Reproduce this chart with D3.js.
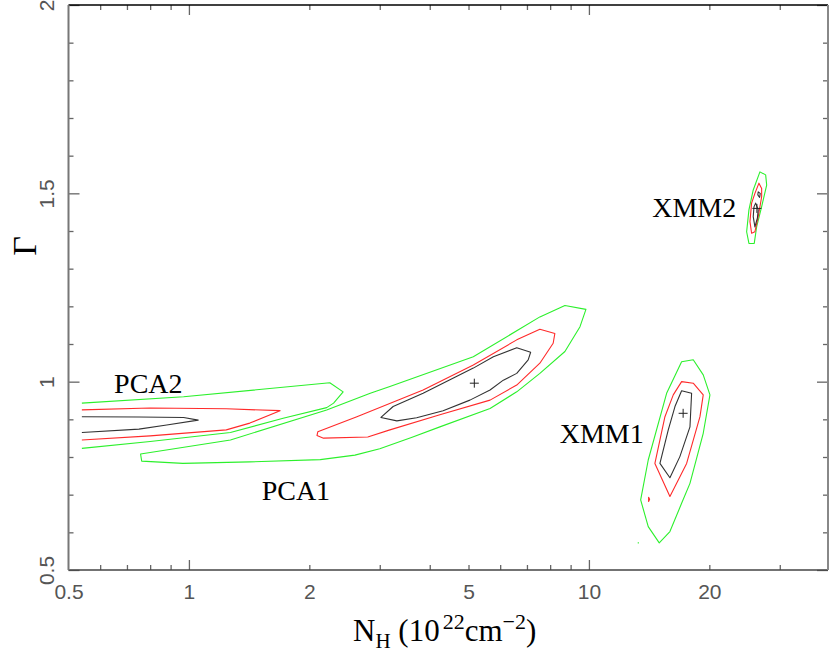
<!DOCTYPE html>
<html><head><meta charset="utf-8">
<script src="https://cdn.jsdelivr.net/npm/d3@7/dist/d3.min.js"></script>
<style>body{margin:0;background:#fff}svg{display:block}</style>
</head><body>
<svg id="chart" width="830" height="657"></svg>
<script>
// ---------- data (N_H in 1e22 cm^-2, photon index Gamma) ----------
const xLabelTicks = [0.5, 1, 2, 5, 10, 20];
const xMajorTicks = [1, 10];
const xMinorTicks = [0.6, 0.7, 0.8, 0.9, 2, 3, 4, 5, 6, 7, 8, 9, 20, 30];
const yLabelTicks = [0.5, 1, 1.5, 2];
const yMinorTicks = [0.6, 0.7, 0.8, 0.9, 1.1, 1.2, 1.3, 1.4, 1.6, 1.7, 1.8, 1.9];

// PCA2 (open at the grid edge)
const pca2Inner = [[0.54,0.907],[0.75,0.906],[0.97,0.905],[1.055,0.898],[0.88,0.885],[0.75,0.874],[0.54,0.865]];
const pca2Mid   = [[0.54,0.925],[0.80,0.930],[1.24,0.928],[1.69,0.923],[1.42,0.890],[1.24,0.872],[0.80,0.856],[0.54,0.845]];
const pca2Outer = [[0.54,0.943],[0.97,0.960],[2.25,0.997],[2.43,0.973],[2.30,0.943],[2.21,0.931],[1.72,0.903],[1.27,0.865],[0.80,0.841],[0.54,0.823]];
// PCA1
const pca1Inner = [[3.02,0.905],[3.24,0.934],[3.85,0.969],[5.14,1.036],[5.77,1.066],[6.6,1.090],[7.15,1.078],[7.05,1.058],[6.6,1.022],[6.11,1.004],[5.66,0.978],[5.04,0.951],[4.32,0.923],[3.71,0.904],[3.31,0.896]];
const pca1Mid   = [[2.1,0.867],[2.63,0.907],[3.85,0.978],[5.14,1.044],[6.6,1.111],[7.54,1.139],[8.22,1.128],[8.14,1.102],[7.54,1.049],[6.6,0.991],[5.66,0.951],[4.24,0.912],[3.18,0.872],[2.8,0.853],[2.17,0.850],[2.09,0.857]];
const pca1Outer = [[0.757,0.808],[0.762,0.789],[0.966,0.783],[1.42,0.787],[2.13,0.793],[2.6,0.805],[3.0,0.822],[3.6,0.852],[4.24,0.880],[5.66,0.929],[6.6,0.973],[7.54,1.022],[8.71,1.080],[9.5,1.146],[9.83,1.192],[8.71,1.202],[7.54,1.172],[5.14,1.066],[3.18,0.987],[2.84,0.969],[2.21,0.925],[1.27,0.845]];
// XMM1
const xmm1Inner = [[17.05,0.976],[18.06,0.969],[17.89,0.880],[16.88,0.801],[15.94,0.745],[15.05,0.783],[15.79,0.872],[16.41,0.934]];
const xmm1Mid   = [[17.05,1.000],[18.23,0.996],[19.31,0.965],[18.95,0.907],[17.55,0.783],[15.94,0.695],[14.62,0.783],[15.49,0.907],[16.25,0.965]];
const xmm1MidIsland = [[14.10,0.693],[14.18,0.688],[14.10,0.682]];
const xmm1Outer = [[17.05,1.053],[18.23,1.058],[19.31,1.018],[20.07,0.965],[19.31,0.863],[17.89,0.730],[17.05,0.677],[15.94,0.602],[14.99,0.572],[14.07,0.615],[13.47,0.686],[14.07,0.792],[15.64,0.969]];
const xmm1OuterIsland = [[13.25,0.573],[13.32,0.571]];
// XMM2
const xmm2Inner = [[26.11,1.474],[26.5,1.456],[26.38,1.435],[26.0,1.411],[25.75,1.438],[25.86,1.464]];
const xmm2InnerIsland = [[26.5,1.504],[26.81,1.500],[26.72,1.489],[26.44,1.496]];
const xmm2Mid   = [[26.61,1.527],[27.03,1.513],[27.03,1.491],[26.5,1.438],[26.0,1.398],[25.51,1.394],[25.27,1.425],[25.51,1.474],[26.0,1.500]];
const xmm2Outer = [[26.76,1.557],[27.66,1.549],[27.82,1.522],[27.03,1.465],[26.26,1.411],[25.9,1.367],[25.12,1.367],[24.79,1.398],[25.12,1.456],[25.75,1.509]];

const bestFits = [[5.17,0.996],[17.2,0.916],[26.3,1.460]];
const labelNames = ["PCA2","PCA1","XMM1","XMM2"];
const labelAnchors = [[0.650,0.970],[1.520,0.686],[8.45,0.836],[14.40,1.438]];

// ---------- layout ----------
const plot = {left: 68.5, right: 828, top: 5, bottom: 570};
const xDomainMax = 39.6;
const svg = d3.select("#chart");
const x = d3.scaleLog().domain([0.5, xDomainMax]).range([plot.left, plot.right]);
const y = d3.scaleLinear().domain([0.5, 2]).range([plot.bottom, plot.top]);

const colInner = "#333333", colMid = "#ff2a2a", colOuter = "#2cf02c";
const contours = [
  {d: pca2Outer, c: colOuter, closed: false},
  {d: pca2Mid, c: colMid, closed: false},
  {d: pca2Inner, c: colInner, closed: false},
  {d: pca1Outer, c: colOuter, closed: true},
  {d: pca1Mid, c: colMid, closed: true},
  {d: pca1Inner, c: colInner, closed: true},
  {d: xmm1Outer, c: colOuter, closed: true},
  {d: xmm1OuterIsland, c: colOuter, closed: false},
  {d: xmm1Mid, c: colMid, closed: true},
  {d: xmm1MidIsland, c: colMid, closed: true},
  {d: xmm1Inner, c: colInner, closed: true},
  {d: xmm2Outer, c: colOuter, closed: true},
  {d: xmm2Mid, c: colMid, closed: true},
  {d: xmm2Inner, c: colInner, closed: true},
  {d: xmm2InnerIsland, c: colInner, closed: true}
];
const lineOpen = d3.line().x(d => x(d[0])).y(d => y(d[1]));
const lineClosed = d3.line().x(d => x(d[0])).y(d => y(d[1])).curve(d3.curveLinearClosed);

svg.append("g").selectAll("path").data(contours).join("path")
  .attr("d", c => (c.closed ? lineClosed : lineOpen)(c.d))
  .attr("fill", "none").attr("stroke", c => c.c).attr("stroke-width", 1.1)
  .attr("stroke-linejoin", "round");

// best-fit crosses
const cs = 4.5;
svg.append("g").selectAll("path").data(bestFits).join("path")
  .attr("d", d => `M${x(d[0]) - cs},${y(d[1])}H${x(d[0]) + cs}M${x(d[0])},${y(d[1]) - cs}V${y(d[1]) + cs}`)
  .attr("stroke", "#222").attr("stroke-width", 1);

// ---------- axes ----------
const tickCol = "#666";
function styleAxis(g) {
  g.select(".domain").remove();
  g.selectAll(".tick line").attr("stroke", tickCol).attr("stroke-width", 1.3);
}
const noLabel = () => "";
const sans = "'Liberation Sans', Arial, sans-serif";
// bottom
svg.append("g").attr("transform", `translate(0,${plot.bottom})`)
  .call(d3.axisBottom(x).tickValues(xMajorTicks).tickSize(-10).tickFormat(noLabel)).call(styleAxis);
svg.append("g").attr("transform", `translate(0,${plot.bottom})`)
  .call(d3.axisBottom(x).tickValues(xMinorTicks).tickSize(-5).tickFormat(noLabel)).call(styleAxis);
const xl = svg.append("g").attr("transform", `translate(0,${plot.bottom})`)
  .call(d3.axisBottom(x).tickValues(xLabelTicks).tickSize(0).tickPadding(14).tickFormat(d3.format("")));
xl.select(".domain").remove();
xl.selectAll("text").attr("font-family", sans).attr("font-size", 21).attr("fill", "#555");
// top
svg.append("g").attr("transform", `translate(0,${plot.top})`)
  .call(d3.axisTop(x).tickValues(xMajorTicks).tickSize(-10).tickFormat(noLabel)).call(styleAxis);
svg.append("g").attr("transform", `translate(0,${plot.top})`)
  .call(d3.axisTop(x).tickValues(xMinorTicks).tickSize(-5).tickFormat(noLabel)).call(styleAxis);
// left
svg.append("g").attr("transform", `translate(${plot.left},0)`)
  .call(d3.axisLeft(y).tickValues(yLabelTicks).tickSize(-11).tickFormat(noLabel)).call(styleAxis);
svg.append("g").attr("transform", `translate(${plot.left},0)`)
  .call(d3.axisLeft(y).tickValues(yMinorTicks).tickSize(-5).tickFormat(noLabel)).call(styleAxis);
const yl = svg.append("g").attr("transform", `translate(${plot.left},0)`)
  .call(d3.axisLeft(y).tickValues(yLabelTicks).tickSize(0).tickFormat(d3.format("")));
yl.select(".domain").remove();
yl.selectAll("text")
  .attr("x", null).attr("dy", null).attr("text-anchor", "middle")
  .attr("transform", "translate(-15,0) rotate(-90)")
  .attr("font-family", sans).attr("font-size", 21).attr("fill", "#555");
// right
svg.append("g").attr("transform", `translate(${plot.right},0)`)
  .call(d3.axisRight(y).tickValues(yLabelTicks).tickSize(-11).tickFormat(noLabel)).call(styleAxis);
svg.append("g").attr("transform", `translate(${plot.right},0)`)
  .call(d3.axisRight(y).tickValues(yMinorTicks).tickSize(-5).tickFormat(noLabel)).call(styleAxis);

// frame
svg.append("line").attr("x1", plot.left).attr("x2", plot.right).attr("y1", plot.top).attr("y2", plot.top)
  .attr("stroke", "#000").attr("stroke-width", 1.5);
svg.append("line").attr("x1", plot.left).attr("x2", plot.right).attr("y1", plot.bottom).attr("y2", plot.bottom)
  .attr("stroke", "#444").attr("stroke-width", 1.5);
svg.append("line").attr("x1", plot.left).attr("x2", plot.left).attr("y1", plot.top).attr("y2", plot.bottom)
  .attr("stroke", "#777").attr("stroke-width", 2);
svg.append("line").attr("x1", plot.right).attr("x2", plot.right).attr("y1", plot.top).attr("y2", plot.bottom)
  .attr("stroke", "#888").attr("stroke-width", 2);

// ---------- annotations ----------
const serif = "'Liberation Serif', 'Times New Roman', serif";
svg.append("g").selectAll("text").data(labelNames).join("text")
  .attr("x", (d, i) => x(labelAnchors[i][0])).attr("y", (d, i) => y(labelAnchors[i][1]))
  .attr("font-family", serif).attr("font-size", 28).attr("fill", "#000").text(d => d);

// axis titles
const xt = svg.append("text").attr("x", 353).attr("y", 641)
  .attr("font-family", serif).attr("font-size", 31).attr("fill", "#000");
xt.append("tspan").text("N");
xt.append("tspan").attr("font-size", 21).attr("dy", 7).text("H");
xt.append("tspan").attr("dy", -7).text(" (10");
xt.append("tspan").attr("font-size", 22).attr("dy", -12).attr("dx", 3).text("22");
xt.append("tspan").attr("dy", 12).text("cm");
xt.append("tspan").attr("font-size", 22).attr("dy", -12).text("\u22122");
xt.append("tspan").attr("dy", 12).text(")");

svg.append("text").attr("transform", "translate(36,246) rotate(-90)")
  .attr("text-anchor", "middle").attr("font-family", serif).attr("font-size", 34).attr("fill", "#000")
  .text("\u0393");
</script>
</body></html>
